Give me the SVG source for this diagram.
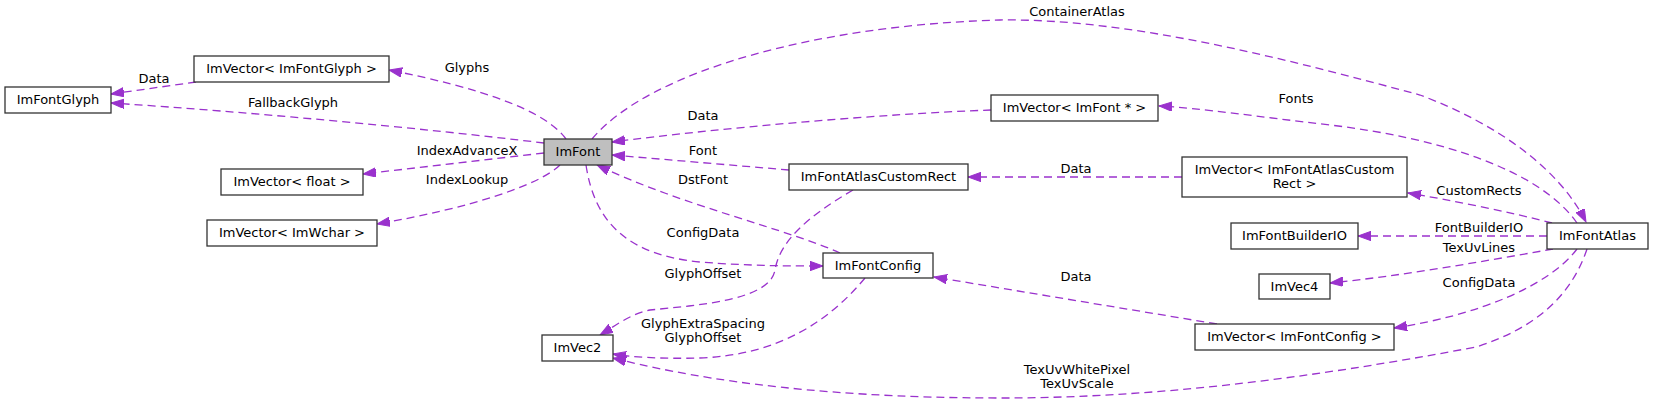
<svg xmlns="http://www.w3.org/2000/svg" width="1653" height="405" viewBox="0 0 1653 405">
<style>
text{font-family:"DejaVu Sans","Liberation Sans",sans-serif;font-size:13px;fill:#000;text-anchor:middle}
.n rect{fill:#fff;stroke:#333;stroke-width:1.3}
.n rect.cur{fill:#bfbfbf}
.e{fill:none;stroke:#9a32cd;stroke-width:1.3;stroke-dasharray:8,5;marker-end:url(#ah)}
</style>
<defs>
<marker id="ah" markerUnits="userSpaceOnUse" markerWidth="14" markerHeight="10" refX="13" refY="4.7" orient="auto">
<path d="M0,0 L13,4.7 L0,9.4 z" fill="#9a32cd" stroke="#9a32cd" stroke-width="1"/>
</marker>
</defs>
<rect width="1653" height="405" fill="#fff"/>
<g id="connectors">
<path class="e" d="M196,82 L111,94"/>
<path class="e" d="M544,143 C420,128 250,112 111,103"/>
<path class="e" d="M566,139 C545,110 480,88 389,70"/>
<path class="e" d="M544,153 L363,174"/>
<path class="e" d="M560,165 C540,185 470,208 377,224"/>
<path class="e" d="M592,139 C650,70 820,25 1000,20 C1130,18 1290,60 1420,95 C1500,125 1560,170 1586,222"/>
<path class="e" d="M991,110 C880,114 720,128 612,142"/>
<path class="e" d="M789,170 L612,155"/>
<path class="e" d="M840,253 C790,230 680,205 597,165"/>
<path class="e" d="M586,165 C595,225 630,255 700,262 C750,266 790,266 823,266"/>
<path class="e" d="M853,190 C810,215 780,240 775,270 C770,300 700,305 650,310 C630,314 615,326 600,335"/>
<path class="e" d="M865,278 C830,320 780,355 700,358 C660,359 630,357 613,354"/>
<path class="e" d="M1182,177 L968,177"/>
<path class="e" d="M1577,223 C1540,170 1440,138 1330,125 C1260,117 1200,108 1159,106"/>
<path class="e" d="M1552,223 C1510,212 1450,200 1408,193"/>
<path class="e" d="M1547,236 L1358,236"/>
<path class="e" d="M1553,249 C1480,262 1400,276 1330,283"/>
<path class="e" d="M1577,249 C1550,285 1480,315 1394,328"/>
<path class="e" d="M1587,249 C1570,300 1530,330 1476,347 C1300,380 1150,398 1000,398 C800,398 680,375 613,358"/>
<path class="e" d="M1217,324 L934,277"/>
<text x="154" y="83">Data</text>
<text x="293" y="107">FallbackGlyph</text>
<text x="467" y="72">Glyphs</text>
<text x="467" y="155">IndexAdvanceX</text>
<text x="467" y="184">IndexLookup</text>
<text x="1077" y="16">ContainerAtlas</text>
<text x="703" y="120">Data</text>
<text x="703" y="155">Font</text>
<text x="703" y="184">DstFont</text>
<text x="703" y="237">ConfigData</text>
<text x="703" y="278">GlyphOffset</text>
<text x="703" y="328">GlyphExtraSpacing</text>
<text x="703" y="342">GlyphOffset</text>
<text x="1296" y="103">Fonts</text>
<text x="1076" y="173">Data</text>
<text x="1479" y="195">CustomRects</text>
<text x="1479" y="232">FontBuilderIO</text>
<text x="1479" y="252">TexUvLines</text>
<text x="1076" y="281">Data</text>
<text x="1479" y="287">ConfigData</text>
<text x="1077" y="374">TexUvWhitePixel</text>
<text x="1077" y="388">TexUvScale</text>
</g>
<g id="ImFontGlyph" class="n"><rect x="5" y="87" width="106" height="26"/><text x="58" y="104">ImFontGlyph</text></g>
<g id="ImVectorImFontGlyph" class="n"><rect x="194" y="56" width="195" height="26"/><text x="291.5" y="73">ImVector&lt; ImFontGlyph &gt;</text></g>
<g id="ImVectorFloat" class="n"><rect x="221" y="169" width="142" height="26"/><text x="292" y="186">ImVector&lt; float &gt;</text></g>
<g id="ImVectorImWchar" class="n"><rect x="207" y="220" width="170" height="26"/><text x="292" y="237">ImVector&lt; ImWchar &gt;</text></g>
<g id="ImFont" class="n"><rect class="cur" x="544" y="139" width="68" height="26"/><text x="578" y="156">ImFont</text></g>
<g id="ImFontAtlasCustomRect" class="n"><rect x="789" y="164" width="179" height="26"/><text x="878.5" y="181">ImFontAtlasCustomRect</text></g>
<g id="ImFontConfig" class="n"><rect x="823" y="253" width="110" height="25"/><text x="878" y="270">ImFontConfig</text></g>
<g id="ImVec2" class="n"><rect x="542" y="335" width="71" height="26"/><text x="577.5" y="352">ImVec2</text></g>
<g id="ImVectorImFontPtr" class="n"><rect x="991" y="95" width="167" height="26"/><text x="1074.5" y="112">ImVector&lt; ImFont * &gt;</text></g>
<g id="ImVectorImFontAtlasCustomRect" class="n"><rect x="1182" y="157" width="225" height="40"/><text x="1294.5" y="173.5">ImVector&lt; ImFontAtlasCustom</text><text x="1294.5" y="188">Rect &gt;</text></g>
<g id="ImFontBuilderIO" class="n"><rect x="1231" y="223" width="127" height="26"/><text x="1294.5" y="240">ImFontBuilderIO</text></g>
<g id="ImFontAtlas" class="n"><rect x="1547" y="223" width="101" height="26"/><text x="1597.5" y="240">ImFontAtlas</text></g>
<g id="ImVec4" class="n"><rect x="1259" y="274" width="71" height="25"/><text x="1294.5" y="291">ImVec4</text></g>
<g id="ImVectorImFontConfig" class="n"><rect x="1195" y="324" width="199" height="26"/><text x="1294.5" y="341">ImVector&lt; ImFontConfig &gt;</text></g>
</svg>
